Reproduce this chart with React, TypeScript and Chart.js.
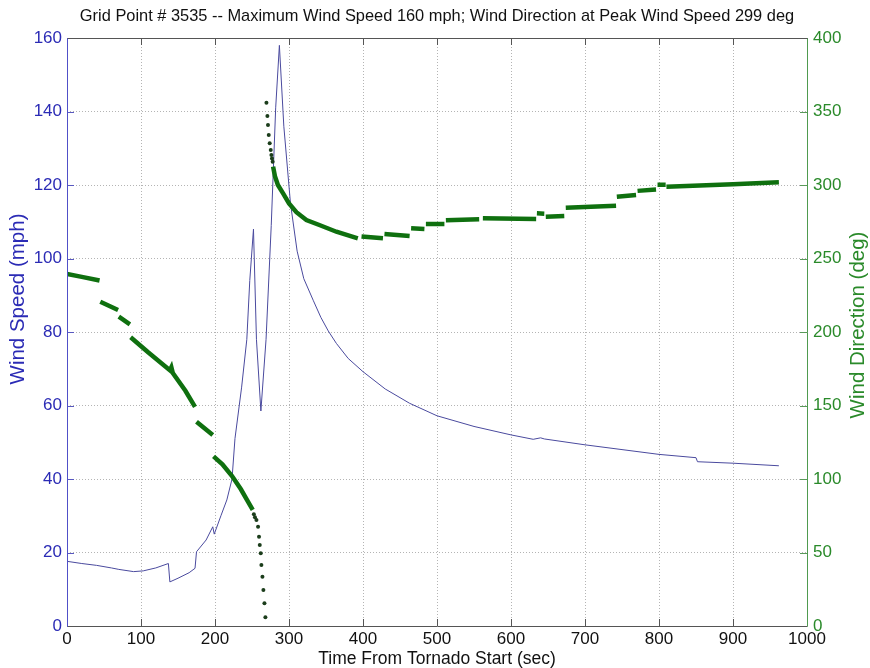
import React, { useEffect, useRef } from 'react';
import { Chart, registerables } from 'chart.js';

Chart.register(...registerables);

const TITLE = 'Grid Point # 3535 -- Maximum Wind Speed 160 mph; Wind Direction at Peak Wind Speed 299 deg';
const X_TITLE = 'Time From Tornado Start (sec)';
const Y_TITLE = 'Wind Speed (mph)';
const Y1_TITLE = 'Wind Direction (deg)';

// Wind speed (mph) vs time (sec)
const speedTime = [0, 20, 40, 60, 70, 90, 103, 120, 137, 139, 150, 165, 173, 175, 188, 197, 199, 208, 216, 223, 227, 236, 243, 247, 252, 256, 262, 269, 276, 282, 287, 293, 302, 311, 320, 333, 343, 353, 364, 380, 400, 430, 463, 500, 550, 600, 630, 640, 645, 700, 750, 800, 850, 852, 900, 962];
const speedMph = [17.6, 17, 16.5, 15.8, 15.4, 14.8, 15, 15.8, 17, 12, 13, 14.5, 15.7, 20.2, 23.4, 27, 25, 30, 34.3, 40, 51, 65, 78, 94, 108, 78, 58.5, 78, 109, 141, 158, 136, 115, 102, 94.5, 88.5, 84, 80.3, 76.9, 72.8, 69.2, 64.5, 60.6, 57.2, 54.3, 52, 50.8, 51.2, 50.9, 49.3, 48, 46.7, 45.8, 44.7, 44.3, 43.6];

// Wind direction (deg), densely sampled runs; null separates runs
const dirTime = [0, 20, 44, null, 45, 69, null, 70, 85, null, 86, 110, 139, 141, 143, 160, 173, null, 175, 197, null, 198, 210, 223, 235, 243, 251, null, 278.5, 281, 285, 292, 300, 310, 323.5, 341, 364, 393, null, 398, 427, null, 429, 463, null, 465, 483, null, 485, 510, null, 512, 557, null, 562, 634, null, 635, 645, null, 647, 672, null, 674, 742, null, 743, 769, null, 771, 796, null, 798, 809, null, 810, 900, 962];
const dirDeg = [239.5, 237.5, 235, null, 220.6, 215, null, 210.4, 205.2, null, 196.4, 186, 174, 176, 172, 160, 149, null, 139, 130, null, 115.4, 110, 102, 93, 86, 79, null, 312.5, 306, 300, 294.3, 287.5, 281.5, 276.2, 272.8, 268.2, 263.7, null, 265, 263.7, null, 266.7, 265.3, null, 270.5, 270, null, 273.5, 273.5, null, 276, 276.7, null, 277.3, 276.9, null, 280.7, 280.5, null, 278.4, 278.9, null, 284.6, 285.9, null, 292, 293.2, null, 296, 297, null, 300.2, 300.2, null, 298.8, 300.5, 301.8];

// Wind direction (deg), sparse samples during the rapid changes
const dotTime = [252.5, 254, 256, 258.2, 259.5, 260.5, 261.8, 262.7, 264.1, 265.4, 266.8, 268.1, 269.5, 270.8, 271.6, 272.6, 273.9, 275.3, 276.2, 277, 277.9];
const dotDeg = [76, 74, 72.1, 67.6, 60.7, 55.1, 49.5, 41.5, 33.5, 24.5, 15.4, 5.9, 356, 347, 340.8, 334, 328.4, 323.8, 320.4, 318.1, 315.9];

const xTicks = [0, 100, 200, 300, 400, 500, 600, 700, 800, 900, 1000];
const yTicks = [0, 20, 40, 60, 80, 100, 120, 140, 160];
const y1Ticks = [0, 50, 100, 150, 200, 250, 300, 350, 400];

const BLUE = '#2b2bb5';
const GREEN = '#2a8a2a';
const FONT = "'Liberation Sans', Arial, sans-serif";

const frame = {
  id: 'frame',
  afterDatasetsDraw(chart: any) {
    const { ctx, chartArea: a, scales } = chart;
    ctx.save();
    ctx.lineWidth = 1;
    const tl = 7;
    ctx.strokeStyle = '#555';
    ctx.beginPath();
    xTicks.forEach((v) => {
      const px = Math.round(scales.x.getPixelForValue(v)) + 0.5;
      ctx.moveTo(px, a.bottom); ctx.lineTo(px, a.bottom - tl);
      ctx.moveTo(px, a.top); ctx.lineTo(px, a.top + tl);
    });
    ctx.stroke();
    ctx.strokeStyle = '#5858c0';
    ctx.beginPath();
    yTicks.forEach((v) => {
      const py = Math.round(scales.y.getPixelForValue(v)) + 0.5;
      ctx.moveTo(a.left, py); ctx.lineTo(a.left + tl, py);
    });
    ctx.stroke();
    ctx.strokeStyle = '#5a9a5a';
    ctx.beginPath();
    y1Ticks.forEach((v) => {
      const py = Math.round(scales.y1.getPixelForValue(v)) + 0.5;
      ctx.moveTo(a.right, py); ctx.lineTo(a.right - tl, py);
    });
    ctx.stroke();
    const L = Math.round(a.left) + 0.5, R = Math.round(a.right) + 0.5;
    const T = Math.round(a.top) + 0.5, B = Math.round(a.bottom) + 0.5;
    ctx.strokeStyle = '#555';
    ctx.beginPath();
    ctx.moveTo(L, T); ctx.lineTo(R, T);
    ctx.moveTo(L, B); ctx.lineTo(R, B);
    ctx.stroke();
    ctx.strokeStyle = '#5050c8';
    ctx.beginPath(); ctx.moveTo(L, T); ctx.lineTo(L, B); ctx.stroke();
    ctx.strokeStyle = '#4f9a4f';
    ctx.beginPath(); ctx.moveTo(R, T); ctx.lineTo(R, B); ctx.stroke();
    // title
    ctx.fillStyle = '#111';
    ctx.font = `16.4px ${FONT}`;
    ctx.textAlign = 'center';
    ctx.textBaseline = 'middle';
    ctx.fillText(TITLE, (a.left + a.right) / 2, 16);
    // axis titles
    ctx.font = `20.5px ${FONT}`;
    ctx.save();
    ctx.translate(18, 299);
    ctx.rotate(-Math.PI / 2);
    ctx.fillStyle = BLUE;
    ctx.fillText(Y_TITLE, 0, 0);
    ctx.restore();
    ctx.save();
    ctx.translate(858, 325);
    ctx.rotate(-Math.PI / 2);
    ctx.fillStyle = GREEN;
    ctx.fillText(Y1_TITLE, 0, 0);
    ctx.restore();
    ctx.restore();
  },
};

export default function App() {
  const ref = useRef<HTMLCanvasElement | null>(null);
  useEffect(() => {
    document.body.style.margin = '0';
    const canvas = ref.current;
    if (!canvas) return;
    const gridBorder = { display: false, dash: [1, 2] };
    const dirData: { x: number; y: number | null }[] = [];
    let lastT = 0;
    dirTime.forEach((t, i) => {
      if (t === null) {
        dirData.push({ x: lastT, y: null });
      } else {
        lastT = t;
        dirData.push({ x: t, y: dirDeg[i] });
      }
    });
    const chart = new Chart(canvas, {
      type: 'line',
      data: {
        datasets: [
          {
            label: 'Wind Direction (sparse)',
            type: 'scatter',
            yAxisID: 'y1',
            order: 0,
            data: dotTime.map((t, i) => ({ x: t, y: dotDeg[i] })),
            pointRadius: 2,
            pointBackgroundColor: '#1b3d1b',
            pointBorderWidth: 0,
            showLine: false,
          } as any,
          {
            label: 'Wind Direction',
            yAxisID: 'y1',
            order: 1,
            data: dirData,
            borderColor: '#0f700f',
            borderWidth: 4.5,
            pointRadius: 0,
            spanGaps: false,
            tension: 0,
          } as any,
          {
            label: 'Wind Speed',
            yAxisID: 'y',
            order: 2,
            data: speedTime.map((t, i) => ({ x: t, y: speedMph[i] })),
            borderColor: '#4a4a9e',
            borderWidth: 1,
            pointRadius: 0,
            tension: 0,
          },
        ],
      },
      options: {
        animation: false,
        responsive: true,
        maintainAspectRatio: false,
        layout: { padding: { top: 38, left: 0, right: 0, bottom: 0 } },
        plugins: { legend: { display: false }, tooltip: { enabled: false }, title: { display: false } },
        scales: {
          x: {
            type: 'linear',
            min: 0,
            max: 1000,
            afterFit: (s: any) => { s.height = 42; },
            afterBuildTicks: (s: any) => { s.ticks = xTicks.map((v) => ({ value: v })); },
            ticks: { color: '#111', font: { family: FONT, size: 17 }, padding: 3, maxRotation: 0, callback: (v: any) => String(v) },
            grid: { color: '#b4b4b4', drawTicks: false, lineWidth: 1 },
            border: gridBorder,
            title: { display: true, text: X_TITLE, color: '#111', font: { family: FONT, size: 17.5 }, padding: { top: 0, bottom: -2 } },
          },
          y: {
            type: 'linear',
            position: 'left',
            min: 0,
            max: 160,
            afterFit: (s: any) => { s.width = 67; },
            afterBuildTicks: (s: any) => { s.ticks = yTicks.map((v) => ({ value: v })); },
            ticks: { color: BLUE, font: { family: FONT, size: 17 }, padding: 5, callback: (v: any) => String(v) },
            grid: { color: '#b4b4b4', drawTicks: false, lineWidth: 1 },
            border: gridBorder,
            title: { display: false, text: Y_TITLE },
          },
          y1: {
            type: 'linear',
            position: 'right',
            min: 0,
            max: 400,
            afterFit: (s: any) => { s.width = 63; },
            afterBuildTicks: (s: any) => { s.ticks = y1Ticks.map((v) => ({ value: v })); },
            ticks: { color: GREEN, font: { family: FONT, size: 17 }, padding: 6, callback: (v: any) => String(v) },
            grid: { drawOnChartArea: false, drawTicks: false },
            border: { display: false },
            title: { display: false, text: Y1_TITLE },
          },
        },
      } as any,
      plugins: [frame],
    });
    return () => chart.destroy();
  }, []);
  return (
    <div style={{ position: 'fixed', left: 0, top: 0, width: 870, height: 668, background: '#fff' }}>
      <canvas ref={ref} />
    </div>
  );
}
